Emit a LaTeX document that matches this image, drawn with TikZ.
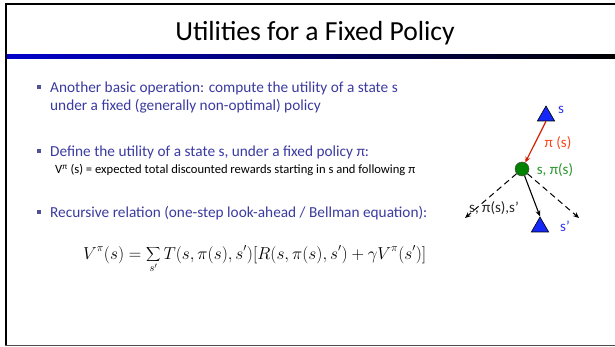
\documentclass[tikz,border=0pt]{standalone}
\usepackage{fontspec}
\setmainfont{Carlito}
\usetikzlibrary{arrows.meta,shapes.geometric}

\definecolor{bulletblue}{RGB}{58,58,160}
\definecolor{sqblue}{RGB}{80,80,150}
\definecolor{stateblue}{RGB}{20,40,250}
\definecolor{labelblue}{RGB}{50,50,240}
\definecolor{arrowred}{RGB}{210,30,0}
\definecolor{labelred}{RGB}{250,70,30}
\definecolor{chancegreen}{RGB}{0,130,0}
\definecolor{labelgreen}{RGB}{40,150,40}

\tikzset{
  bullettext/.style={anchor=base west, inner sep=0pt, text=bulletblue, font=\fontsize{15.3}{18}\selectfont},
  bulletmark/.style={fill=sqblue, minimum size=4pt, inner sep=0pt},
  maxnode/.style={regular polygon, regular polygon sides=3, draw=black, fill=stateblue, minimum size=20pt, inner sep=0pt, line width=0.6pt},
  chancenode/.style={circle, draw=black!70, fill=chancegreen, minimum size=14pt, inner sep=0pt, line width=0.5pt},
  treelabel/.style={inner sep=0pt, font=\fontsize{15}{17}\selectfont},
  dashedarrow/.style={dashed, dash pattern=on 6pt off 4pt, line width=1pt, -{Stealth[length=6pt,width=5pt]}},
}

\begin{document}
\begin{tikzpicture}[x=1pt, y=-1pt]
\useasboundingbox (0,0) rectangle (615,347);

% slide frame
\draw[line width=2.5pt] (6,4) -- (615,4);
\draw[line width=2.5pt] (6,2.8) -- (6,345.5);
\draw[black!70, line width=1.8pt] (5,345.5) -- (615,345.5);

% header rule
\draw[black!45, line width=1pt] (7,54.5) -- (615,54.5);
\shade[left color=blue!80!black, right color=black] (7.2,55) rectangle (615,58.5);

% title
\node[inner sep=0pt, font=\fontsize{27.6}{30}\selectfont] (title) at (315,33) {Utilities for a Fixed Policy};

% bullets
\node[bulletmark] (b1) at (38.5,87.5) {};
\node[bullettext] (t1a) at (50,93) {Another basic operation: compute the utility of a state s};
\node[bullettext] (t1b) at (50,111) {under a fixed (generally non-optimal) policy};

\node[bulletmark] (b2) at (38.5,151) {};
\node[bullettext] (t2) at (50,157) {Define the utility of a state s, under a fixed policy π:};
\node[anchor=base west, inner sep=0pt, font=\fontsize{12.6}{14}\selectfont] (t2sub) at (55,173.5)
  {V\textsuperscript{π} (s) = expected total discounted rewards starting in s and following π};

\node[bulletmark] (b3) at (38.5,212) {};
\node[bullettext] (t3) at (50,218) {Recursive relation (one-step look-ahead / Bellman equation):};

% Bellman equation
\node[anchor=base west, inner sep=0pt, font=\fontsize{16.1}{19}\selectfont] (eq) at (83,259)
  {$\displaystyle V^{\pi}(s) = \sum_{s'} T(s,\pi(s),s')[R(s,\pi(s),s') + \gamma V^{\pi}(s')]$};

% one-step tree
\node[maxnode] (top) at (546,116) {};
\node[chancenode] (chance) at (522,169) {};
\node[maxnode] (bot) at (540,227) {};
\coordinate (leftend) at (465,218);
\coordinate (rightend) at (579,218);

\draw[arrowred, line width=1.2pt, -{Stealth[length=6pt,width=5pt]}] (top.south) -- (chance);
\draw[dashedarrow] (chance) -- (leftend);
\draw[dashedarrow] (chance) -- (rightend);
\draw[line width=1.1pt, -{Stealth[length=6pt,width=5pt]}] (chance) -- (bot.north);

\node[treelabel, text=labelblue] (ls) at (561,110) {s};
\node[treelabel, text=labelred] (lpi) at (558,143) {π (s)};
\node[treelabel, text=labelgreen] (lsp) at (555,170) {s, π(s)};
\node[treelabel, text=black!85] (lt) at (494,208) {s, π(s),s’};
\node[treelabel, text=labelblue] (lsprime) at (565,226) {s’};
\end{tikzpicture}
\end{document}
